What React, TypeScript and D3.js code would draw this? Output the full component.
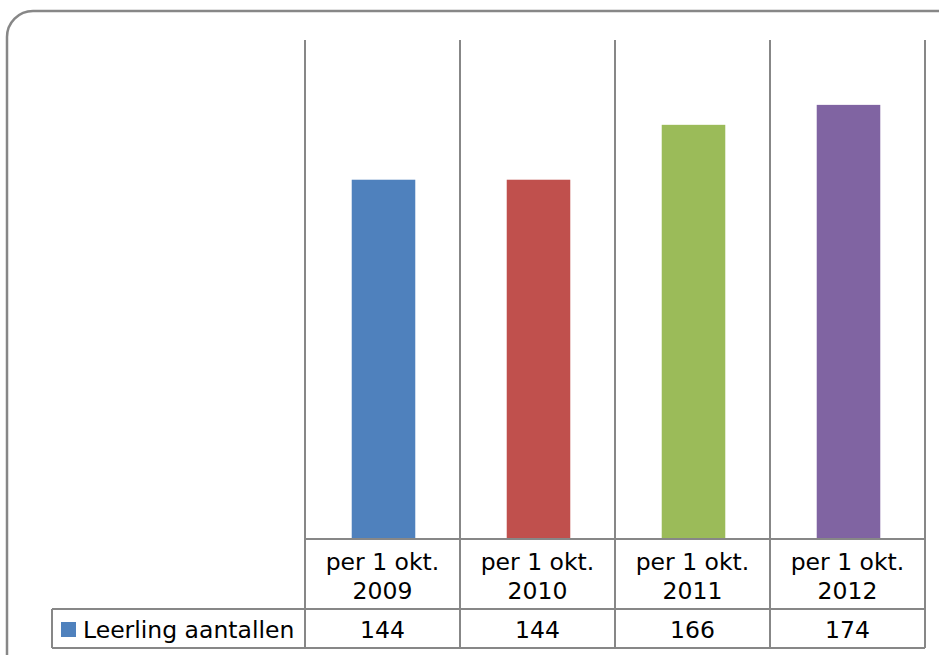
import * as d3 from 'd3';
import { useEffect, useRef } from 'react';

const categories = ['per 1 okt. 2009', 'per 1 okt. 2010', 'per 1 okt. 2011', 'per 1 okt. 2012'];
const values = [144, 144, 166, 174];
const barColors = ['#4F81BD', '#C0504D', '#9BBB59', '#8064A2'];
const seriesName = 'Leerling aantallen';
const yMax = 200;

const App = () => {
  const svgRef = useRef<SVGSVGElement | null>(null);

  useEffect(() => {
    if (!svgRef.current) return;

    const width = 939;
    const height = 655;
    const plotLeft = 305;
    const plotRight = 925;
    const plotTop = 40;
    const plotBottom = 539;
    const rowMid = 609;
    const tableBottom = 648;
    const legendLeft = 52;
    const grid = '#878787';
    const font = '"DejaVu Sans", Verdana, sans-serif';
    const fontSize = '23.5px';

    const svg = d3.select(svgRef.current)
      .html('')
      .attr('width', width)
      .attr('height', height);

    // outer frame
    svg.append('rect')
      .attr('x', 7)
      .attr('y', 11)
      .attr('width', 960)
      .attr('height', 670)
      .attr('rx', 26)
      .attr('fill', '#fff')
      .attr('stroke', grid)
      .attr('stroke-width', 2.5);

    const xScale = d3.scaleBand<string>()
      .domain(categories)
      .range([plotLeft, plotRight])
      .paddingInner(0)
      .paddingOuter(0);

    const yScale = d3.scaleLinear()
      .domain([0, yMax])
      .range([plotBottom, plotTop]);

    // vertical gridlines (category borders)
    const edges = categories.map(c => xScale(c)!).concat([plotRight]);
    svg.append('g')
      .selectAll('line')
      .data(edges)
      .enter().append('line')
      .attr('x1', d => d)
      .attr('x2', d => d)
      .attr('y1', plotTop)
      .attr('y2', tableBottom)
      .attr('stroke', grid)
      .attr('stroke-width', 2);

    // bars
    const bw = xScale.bandwidth() * 0.41;
    svg.append('g')
      .selectAll('rect')
      .data(values)
      .enter().append('rect')
      .attr('x', (d, i) => xScale(categories[i])! + xScale.bandwidth() / 2 - bw / 2 + 1)
      .attr('y', d => yScale(d))
      .attr('width', bw)
      .attr('height', d => plotBottom - yScale(d))
      .attr('fill', (d, i) => barColors[i]);

    // table horizontal lines
    const hlines = [
      { x1: plotLeft, x2: plotRight, y: plotBottom },
      { x1: legendLeft, x2: plotRight, y: rowMid },
      { x1: legendLeft, x2: plotRight, y: tableBottom },
    ];
    svg.append('g')
      .selectAll('line')
      .data(hlines)
      .enter().append('line')
      .attr('x1', d => d.x1)
      .attr('x2', d => d.x2)
      .attr('y1', d => d.y)
      .attr('y2', d => d.y)
      .attr('stroke', grid)
      .attr('stroke-width', 2);

    svg.append('line')
      .attr('x1', legendLeft)
      .attr('x2', legendLeft)
      .attr('y1', rowMid)
      .attr('y2', tableBottom)
      .attr('stroke', grid)
      .attr('stroke-width', 2);

    // category labels (two lines)
    const labels = svg.append('g');
    categories.forEach(c => {
      const cx = xScale(c)! + xScale.bandwidth() / 2;
      const parts = c.split(/ (?=\d{4}$)/);
      labels.append('text')
        .attr('x', cx)
        .attr('y', 570)
        .attr('text-anchor', 'middle')
        .style('font-family', font)
        .style('font-size', fontSize)
        .attr('fill', '#000')
        .text(parts[0]);
      labels.append('text')
        .attr('x', cx)
        .attr('y', 599)
        .attr('text-anchor', 'middle')
        .style('font-family', font)
        .style('font-size', fontSize)
        .attr('fill', '#000')
        .text(parts[1]);
    });

    // values row
    svg.append('g')
      .selectAll('text')
      .data(values)
      .enter().append('text')
      .attr('x', (d, i) => xScale(categories[i])! + xScale.bandwidth() / 2)
      .attr('y', 638)
      .attr('text-anchor', 'middle')
      .style('font-family', font)
      .style('font-size', fontSize)
      .attr('fill', '#000')
      .text(d => d);

    // legend key
    svg.append('rect')
      .attr('x', 61)
      .attr('y', 622)
      .attr('width', 15)
      .attr('height', 15)
      .attr('fill', barColors[0]);

    svg.append('text')
      .attr('x', 83)
      .attr('y', 638)
      .style('font-family', font)
      .style('font-size', fontSize)
      .attr('fill', '#000')
      .text(seriesName);
  }, []);

  return (
    <svg
      ref={svgRef}
      style={{ position: 'absolute', left: 0, top: 0, display: 'block' }}
    />
  );
};

export default App;
